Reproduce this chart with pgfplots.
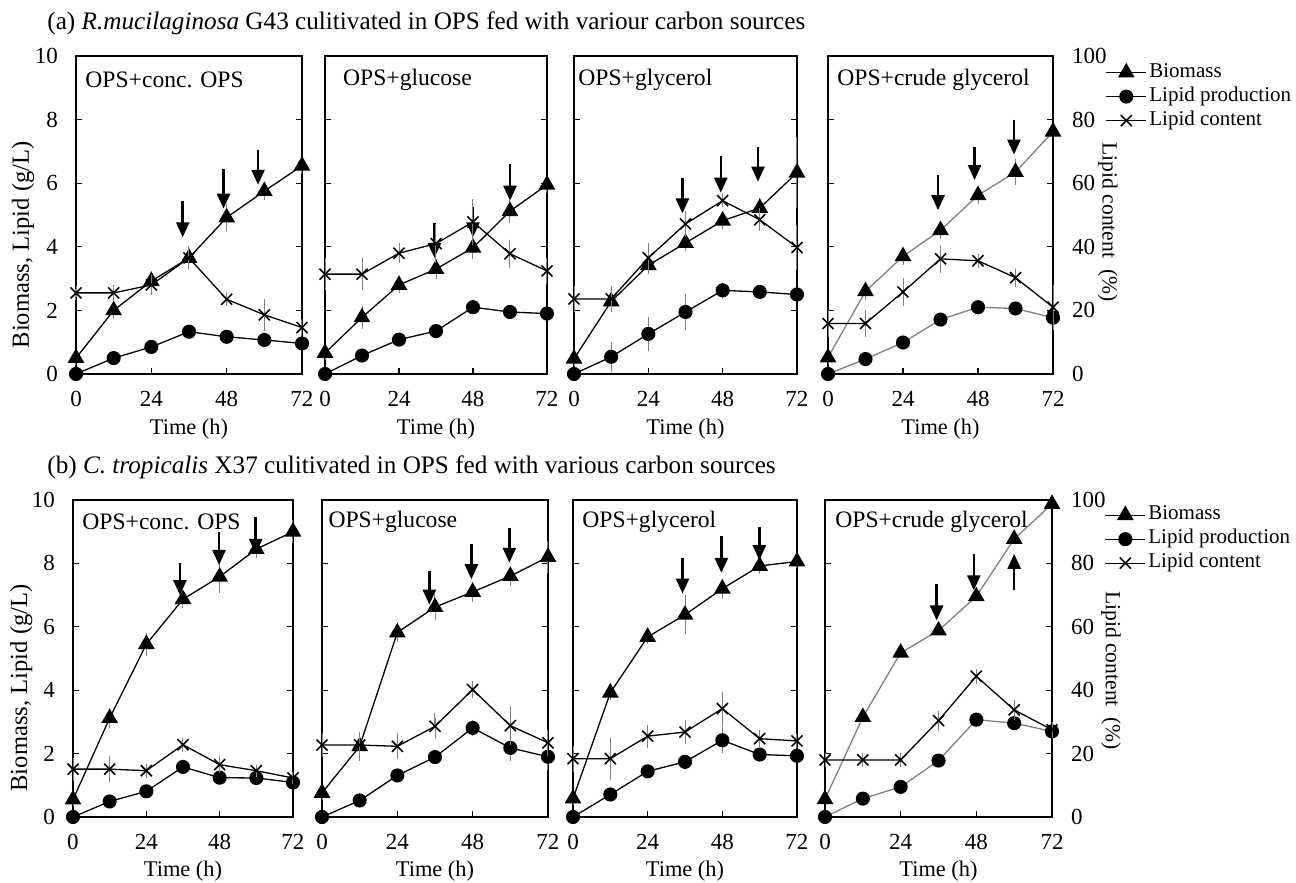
\documentclass[border=0pt]{standalone}
\usepackage{pgfplots}
\pgfplotsset{compat=1.18}
\usepackage{fontspec}
\setmainfont{Liberation Serif}
\usetikzlibrary{arrows.meta}

\tikzset{
  arr/.style={-{Triangle[width=6.5pt,length=7.5pt]}, line width=1.3pt, black},
  plab/.style={anchor=west, inner sep=0pt, font=\fontsize{11.8}{13}\selectfont},
}
\pgfplotsset{
  main/.style={scale only axis, anchor=south west, xmin=0, xmax=72, ymin=0, ymax=10,
    xtick={0,24,48,72}, ytick={0,2,4,6,8,10}, xtick pos=left, ytick pos=both,
    tick align=inside, major tick length=3pt, clip=false,
    axis line style={line width=0.75pt},
    every tick/.append style={line width=0.6pt, black},
    tick label style={font=\fontsize{11.5}{13}\selectfont},
    /pgf/number format/assume math mode=true,
    xticklabel style={yshift=-5pt}, yticklabel style={xshift=-5.5pt},
    xlabel={Time (h)},
    x label style={at={(axis description cs:0.5,0)}, anchor=center, font=\fontsize{11.2}{13}\selectfont}},
  toprow/.style={x label style={yshift=-27.5pt}},
  botrow/.style={x label style={yshift=-27pt}},
  nolab/.style={yticklabels={}},
  cont/.style={scale only axis, anchor=south west, xmin=0, xmax=72, ymin=0, ymax=100, clip=false},
  bio/.style={black, line width=0.65pt, mark=triangle*, mark size=4.2pt, mark options={solid, fill=black, draw=black}},
  lip/.style={black, line width=0.65pt, mark=*, mark size=3.2pt, mark options={solid, fill=black, draw=black}},
  con/.style={black, line width=0.65pt, mark=x, mark size=3.9pt, mark options={solid, line width=0.8pt, draw=black}},
  eb/.style={/pgfplots/error bars/y dir=both, /pgfplots/error bars/y explicit,
    /pgfplots/error bars/error bar style={black!50, line width=0.5pt},
    /pgfplots/error bars/error mark options={black!50, mark size=2.6pt, line width=0.5pt}},
  leg/.style={legend style={draw=none, fill=none, inner sep=0pt, outer sep=0pt,
    font=\fontsize{10.5}{12}\selectfont, nodes={inner sep=1.2pt, text height=0.72em, text depth=0.24em}},
    legend cell align=left,
    legend image code/.code={\draw[mark repeat=2,mark phase=2] plot coordinates {(0pt,0pt)(10pt,0pt)(20pt,0pt)};}},
  rax/.style={axis y line*=right, axis x line=none, ytick={0,20,40,60,80,100}, major tick length=0pt,
    /pgf/number format/assume math mode=true,
    yticklabel style={xshift=6pt, font=\fontsize{11.5}{13}\selectfont},
    ylabel={Lipid content~ (\%)}},
}

\begin{document}
\begin{tikzpicture}
\useasboundingbox (0,0) rectangle (648pt,441.5pt);

% titles
\node[anchor=west, inner sep=0pt, font=\fontsize{12.6}{15}\selectfont] at (23.5pt,430pt) {(a) \textit{R.mucilaginosa} G43 culitivated in OPS fed with variour carbon sources};
\node[anchor=west, inner sep=0pt, font=\fontsize{12.6}{15}\selectfont] at (23.5pt,208pt) {(b) \textit{C. tropicalis} X37 culitivated in OPS fed with various carbon sources};

%================ TOP ROW ================
% a1
\begin{axis}[main, toprow, at={(38pt,254.5pt)}, width=113pt, height=159pt,
  ylabel={Biomass, Lipid (g/L)},
  y label style={at={(axis description cs:-0.235,0.406)}, anchor=center, font=\fontsize{12.3}{14}\selectfont}]
\addplot[bio, eb] coordinates {(0,0.5) +- (0,0.05) (12,2.0) +- (0,0.1) (24,2.92) +- (0,0.15) (36,3.65) +- (0,0.15) (48,4.92) +- (0,0.25) (60,5.75) +- (0,0.1) (72,6.55) +- (0,0.1)};
\addplot[lip] coordinates {(0,0) (12,0.5) (24,0.85) (36,1.33) (48,1.17) (60,1.07) (72,0.96)};
\node[plab] at (rel axis cs:0.04,0.925) {OPS+conc. OPS};
\draw[arr] (axis cs:34,5.45) -- (axis cs:34,4.3);
\draw[arr] (axis cs:47,6.45) -- (axis cs:47,5.2);
\draw[arr] (axis cs:58,7.05) -- (axis cs:58,5.95);
\end{axis}
\begin{axis}[cont, hide axis, at={(38pt,254.5pt)}, width=113pt, height=159pt]
\addplot[con, eb] coordinates {(0,25.5) +- (0,0.5) (12,25.5) +- (0,1) (24,28) +- (0,1.5) (36,36.5) +- (0,2) (48,23.5) +- (0,0.5) (60,18.6) +- (0,3.3) (72,14.6) +- (0,1)};
\end{axis}

% a2
\begin{axis}[main, toprow, nolab, at={(162.5pt,254.5pt)}, width=111pt, height=159pt]
\addplot[bio, eb] coordinates {(0,0.66) +- (0,0.05) (12,1.78) +- (0,0.2) (24,2.8) +- (0,0.1) (36,3.3) +- (0,0.15) (48,3.97) +- (0,0.2) (60,5.12) +- (0,0.2) (72,5.95) +- (0,0.1)};
\addplot[lip] coordinates {(0,0) (12,0.58) (24,1.08) (36,1.35) (48,2.1) (60,1.95) (72,1.9)};
\node[plab] at (rel axis cs:0.08,0.925) {OPS+glucose};
\draw[arr] (axis cs:35.5,4.75) -- (axis cs:35.5,3.65);
\draw[arr] (axis cs:48,5.25) -- (axis cs:48,4.3);
\draw[arr] (axis cs:60,6.6) -- (axis cs:60,5.45);
\end{axis}
\begin{axis}[cont, hide axis, at={(162.5pt,254.5pt)}, width=111pt, height=159pt]
\addplot[con, eb] coordinates {(0,31.4) +- (0,3.5) (12,31.4) +- (0,3.5) (24,38) +- (0,1.5) (36,41) +- (0,4.5) (48,47.8) +- (0,5.5) (60,37.8) +- (0,2.8) (72,32.4) +- (0,2.5)};
\end{axis}

% a3
\begin{axis}[main, toprow, nolab, at={(287pt,254.5pt)}, width=111.5pt, height=159pt]
\addplot[bio, eb] coordinates {(0,0.48) +- (0,0.05) (12,2.28) +- (0,0.1) (24,3.42) +- (0,0.1) (36,4.12) +- (0,0.1) (48,4.82) +- (0,0.1) (60,5.22) +- (0,0.15) (72,6.33) +- (0,0.95)};
\addplot[lip, eb] coordinates {(0,0) +- (0,0) (12,0.54) +- (0,0.3) (24,1.26) +- (0,0.38) (36,1.95) +- (0,0.4) (48,2.63) +- (0,0.1) (60,2.58) +- (0,0.05) (72,2.5) +- (0,0.05)};
\node[plab] at (rel axis cs:0.018,0.925) {OPS+glycerol};
\draw[arr] (axis cs:35,6.15) -- (axis cs:35,5.05);
\draw[arr] (axis cs:47.4,6.85) -- (axis cs:47.4,5.7);
\draw[arr] (axis cs:59.4,7.15) -- (axis cs:59.4,6.05);
\end{axis}
\begin{axis}[cont, hide axis, at={(287pt,254.5pt)}, width=111.5pt, height=159pt]
\addplot[con, eb] coordinates {(0,23.6) +- (0,2.5) (12,23.6) +- (0,2.5) (24,36.5) +- (0,3) (36,47.2) +- (0,2.5) (48,54.5) +- (0,0.5) (60,48.5) +- (0,2) (72,39.8) +- (0,5.5)};
\end{axis}

% a4
\begin{axis}[main, toprow, nolab, at={(414pt,254.5pt)}, width=112.5pt, height=159pt]
\addplot[bio, draw=black!50, eb] coordinates {(0,0.52) +- (0,0.05) (12,2.6) +- (0,0.1) (24,3.7) +- (0,0.1) (36,4.52) +- (0,0.1) (48,5.62) +- (0,0.1) (60,6.35) +- (0,0.25) (72,7.62) +- (0,0.3)};
\addplot[lip, draw=black!50] coordinates {(0,0) (12,0.47) (24,0.99) (36,1.71) (48,2.1) (60,2.06) (72,1.77)};
\node[plab] at (rel axis cs:0.04,0.925) {OPS+crude glycerol};
\draw[arr] (axis cs:35.2,6.25) -- (axis cs:35.2,5.15);
\draw[arr] (axis cs:46.9,7.15) -- (axis cs:46.9,6.1);
\draw[arr] (axis cs:59.5,8.0) -- (axis cs:59.5,6.9);
\end{axis}
\begin{axis}[cont, rax, leg, at={(414pt,254.5pt)}, width=112.5pt, height=159pt,
  y label style={at={(axis description cs:1.244,0.478)}, rotate=180, anchor=center, font=\fontsize{10.8}{12}\selectfont},
  legend style={at={(axis description cs:1.234,0.9855)}, anchor=north west}]
\addlegendimage{bio}\addlegendentry{Biomass}
\addlegendimage{lip}\addlegendentry{Lipid production}
\addlegendimage{con}\addlegendentry{Lipid content}
\addplot[con, eb, forget plot] coordinates {(0,15.9) +- (0,2.5) (12,15.9) +- (0,2.5) (24,25.8) +- (0,2.7) (36,36.2) +- (0,2.8) (48,35.6) +- (0,0.5) (60,30.3) +- (0,1.2) (72,21) +- (0,5.5)};
\end{axis}

%================ BOTTOM ROW ================
% b1
\begin{axis}[main, botrow, at={(36.5pt,33pt)}, width=110pt, height=158.5pt,
  ylabel={Biomass, Lipid (g/L)},
  y label style={at={(axis description cs:-0.235,0.407)}, anchor=center, font=\fontsize{12.3}{14}\selectfont}]
\addplot[bio, eb] coordinates {(0,0.55) +- (0,0.05) (12,3.12) +- (0,0.15) (24,5.45) +- (0,0.2) (36,6.87) +- (0,0.1) (48,7.58) +- (0,0.35) (60,8.45) +- (0,0.1) (72,9.0) +- (0,0.2)};
\addplot[lip] coordinates {(0,0) (12,0.49) (24,0.81) (36,1.58) (48,1.24) (60,1.23) (72,1.09)};
\node[plab] at (rel axis cs:0.041,0.93) {OPS+conc. OPS};
\draw[arr] (axis cs:35,8.0) -- (axis cs:35,7.0);
\draw[arr] (axis cs:47.8,9.0) -- (axis cs:47.8,7.95);
\draw[arr] (axis cs:59.8,9.45) -- (axis cs:59.8,8.3);
\end{axis}
\begin{axis}[cont, hide axis, at={(36.5pt,33pt)}, width=110pt, height=158.5pt]
\addplot[con, eb] coordinates {(0,15.1) +- (0,2) (12,15.1) +- (0,2.5) (24,14.6) +- (0,0.5) (36,22.8) +- (0,0.5) (48,16.5) +- (0,1) (60,14.6) +- (0,0.3) (72,12.3) +- (0,0.3)};
\end{axis}

% b2
\begin{axis}[main, botrow, nolab, at={(161pt,33pt)}, width=113pt, height=158.5pt]
\addplot[bio, eb] coordinates {(0,0.76) +- (0,0.05) (12,2.23) +- (0,0.3) (24,5.82) +- (0,0.15) (36,6.62) +- (0,0.25) (48,7.1) +- (0,0.15) (60,7.6) +- (0,0.15) (72,8.2) +- (0,0.35)};
\addplot[lip, eb] coordinates {(0,0) +- (0,0) (12,0.52) +- (0,0.05) (24,1.31) +- (0,0.05) (36,1.89) +- (0,0.05) (48,2.81) +- (0,0.1) (60,2.18) +- (0,0.25) (72,1.9) +- (0,0.25)};
\node[plab] at (rel axis cs:0.027,0.93) {OPS+glucose};
\draw[arr] (axis cs:34.2,7.76) -- (axis cs:34.2,6.7);
\draw[arr] (axis cs:47.6,8.6) -- (axis cs:47.6,7.5);
\draw[arr] (axis cs:59.7,9.13) -- (axis cs:59.7,8.02);
\end{axis}
\begin{axis}[cont, hide axis, at={(161pt,33pt)}, width=113pt, height=158.5pt]
\addplot[con, eb] coordinates {(0,22.7) +- (0,2) (12,22.7) +- (0,2) (24,22.3) +- (0,2.5) (36,28.6) +- (0,2.5) (48,40.2) +- (0,1) (60,28.8) +- (0,4.5) (72,23.4) +- (0,2.5)};
\end{axis}

% b3
\begin{axis}[main, botrow, nolab, at={(286.5pt,33pt)}, width=112pt, height=158.5pt]
\addplot[bio, eb] coordinates {(0,0.58) +- (0,0.05) (12,3.92) +- (0,0.05) (24,5.68) +- (0,0.05) (36,6.38) +- (0,0.45) (48,7.2) +- (0,0.15) (60,7.92) +- (0,0.1) (72,8.06) +- (0,0.05)};
\addplot[lip, eb] coordinates {(0,0) +- (0,0) (12,0.71) +- (0,0.05) (24,1.44) +- (0,0.05) (36,1.74) +- (0,0.05) (48,2.42) +- (0,0.25) (60,1.97) +- (0,0.05) (72,1.93) +- (0,0.05)};
\node[plab] at (rel axis cs:0.04,0.93) {OPS+glycerol};
\draw[arr] (axis cs:35.2,8.16) -- (axis cs:35.2,7.05);
\draw[arr] (axis cs:47.7,8.85) -- (axis cs:47.7,7.7);
\draw[arr] (axis cs:59.9,9.15) -- (axis cs:59.9,8.1);
\end{axis}
\begin{axis}[cont, hide axis, at={(286.5pt,33pt)}, width=112pt, height=158.5pt]
\addplot[con, eb] coordinates {(0,18.4) +- (0,2.5) (12,18.4) +- (0,5) (24,25.5) +- (0,2) (36,26.8) +- (0,2) (48,34.2) +- (0,3.7) (60,24.7) +- (0,1) (72,24) +- (0,0.5)};
\end{axis}

% b4
\begin{axis}[main, botrow, nolab, at={(412.5pt,33pt)}, width=113.5pt, height=158.5pt]
\addplot[bio, draw=black!50] coordinates {(0,0.56) (12,3.15) (24,5.18) (36,5.88) (48,6.96) (60,8.77) (72,9.87)};
\addplot[lip, draw=black!50] coordinates {(0,0) (12,0.58) (24,0.95) (36,1.78) (48,3.07) (60,2.96) (72,2.7)};
\node[plab] at (rel axis cs:0.044,0.93) {OPS+crude glycerol};
\draw[arr] (axis cs:35.4,7.35) -- (axis cs:35.4,6.2);
\draw[arr] (axis cs:47.2,8.3) -- (axis cs:47.2,7.15);
\draw[arr] (axis cs:60,7.15) -- (axis cs:60,8.3);
\end{axis}
\begin{axis}[cont, rax, leg, at={(412.5pt,33pt)}, width=113.5pt, height=158.5pt,
  y label style={at={(axis description cs:1.26,0.462)}, rotate=180, anchor=center, font=\fontsize{10.8}{12}\selectfont},
  legend style={at={(axis description cs:1.232,0.99)}, anchor=north west}]
\addlegendimage{bio}\addlegendentry{Biomass}
\addlegendimage{lip}\addlegendentry{Lipid production}
\addlegendimage{con}\addlegendentry{Lipid content}
\addplot[con, eb, forget plot] coordinates {(0,18) +- (0,0.5) (12,18) +- (0,0.5) (24,18) +- (0,0.5) (36,30.4) +- (0,1.5) (48,44.4) +- (0,0.8) (60,33.8) +- (0,1.5) (72,27.5) +- (0,0.8)};
\end{axis}

\end{tikzpicture}
\end{document}
